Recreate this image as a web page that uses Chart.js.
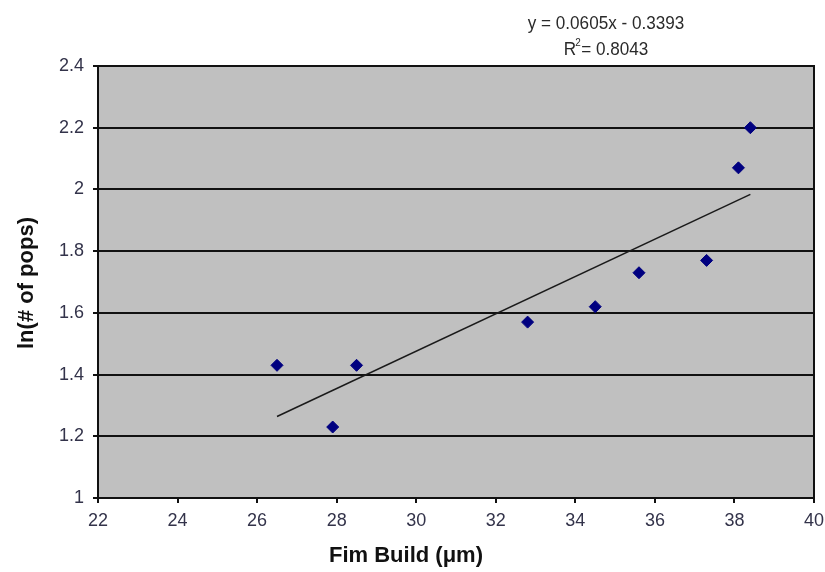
<!DOCTYPE html>
<html>
<head>
<meta charset="utf-8">
<title>Film Build vs pops</title>
<script src="https://cdn.jsdelivr.net/npm/chart.js@4.4.1/dist/chart.umd.min.js"></script>
<style>
  html, body { margin: 0; padding: 0; background: #fff; }
  #wrap { width: 825px; height: 572px; position: relative; }
</style>
</head>
<body>
<div id="wrap"><canvas id="popsChart"></canvas></div>
<script>
// Measured points
const filmBuild = [26.5, 27.9, 28.5, 32.8, 34.5, 35.6, 37.3, 38.1, 38.4];
const lnPops = [1.43, 1.23, 1.43, 1.57, 1.62, 1.73, 1.77, 2.07, 2.20];

// Linear fit as reported
const slope = 0.0605;
const intercept = -0.3393;
const rSquared = 0.8043;

const xTicks = [22, 24, 26, 28, 30, 32, 34, 36, 38, 40];
const yTicks = [1, 1.2, 1.4, 1.6, 1.8, 2, 2.2, 2.4];

const xTitle = 'Fim Build (\u03bcm)';
const yTitle = 'ln(# of pops)';

const FONT = '"Liberation Sans", Arial, Helvetica, sans-serif';

// Fit line spans the data range
const xMin = Math.min(...filmBuild);
const xMax = Math.max(...filmBuild);
const fitLine = [xMin, xMax].map(x => ({ x: x, y: slope * x + intercept }));

// Narrow-looking text: squeeze horizontally
function squeezedText(ctx, text, x, y, sx) {
    ctx.save();
    ctx.translate(x, y);
    ctx.scale(sx, 1);
    ctx.fillText(text, 0, 0);
    ctx.restore();
}

// Grey plot area, frame, equation and axis titles
const plotFrame = {
    id: 'plotFrame',
    beforeDraw(chart) {
        const { ctx, chartArea: a } = chart;
        ctx.save();
        ctx.fillStyle = '#c0c0c0';
        ctx.fillRect(a.left, a.top, a.right - a.left, a.bottom - a.top);
        ctx.restore();
    },
    afterDraw(chart) {
        const { ctx, chartArea: a } = chart;
        ctx.save();
        ctx.strokeStyle = '#111';
        ctx.lineWidth = 2;
        ctx.strokeRect(a.left, a.top, a.right - a.left, a.bottom - a.top);

        // Equation label
        ctx.fillStyle = '#2a2a2a';
        ctx.textBaseline = 'alphabetic';
        ctx.textAlign = 'center';
        ctx.font = '19px ' + FONT;
        const cx = 606;
        const sq = 0.9;
        squeezedText(ctx, 'y = ' + slope + 'x - ' + Math.abs(intercept), cx, 29, sq);

        const r2 = '= ' + rSquared;
        ctx.textAlign = 'left';
        const rW = ctx.measureText('R').width * sq;
        const r2W = ctx.measureText(r2).width * sq;
        const total = rW + 5 + r2W;
        const sx = cx - total / 2;
        squeezedText(ctx, 'R', sx, 55, sq);
        ctx.font = '11px ' + FONT;
        squeezedText(ctx, '2', sx + rW - 1, 46, sq);
        ctx.font = '19px ' + FONT;
        squeezedText(ctx, r2, sx + rW + 5, 55, sq);

        // Axis titles
        ctx.fillStyle = '#111';
        ctx.font = 'bold 22px ' + FONT;
        ctx.textAlign = 'center';
        ctx.textBaseline = 'middle';
        ctx.fillText(xTitle, 406, 556);

        ctx.save();
        ctx.translate(27, 283);
        ctx.rotate(-Math.PI / 2);
        ctx.fillText(yTitle, 0, 0);
        ctx.restore();

        ctx.restore();
    }
};

new Chart(document.getElementById('popsChart'), {
    type: 'scatter',
    data: {
        datasets: [
            {
                label: 'ln(# of pops)',
                data: filmBuild.map((x, i) => ({ x: x, y: lnPops[i] })),
                pointStyle: 'rectRot',
                pointRadius: 6,
                pointHoverRadius: 6,
                backgroundColor: '#000080',
                borderColor: '#000080',
                borderWidth: 1
            },
            {
                label: 'Linear fit',
                data: fitLine,
                showLine: true,
                pointRadius: 0,
                borderColor: '#1a1a1a',
                borderWidth: 1.5
            }
        ]
    },
    options: {
        responsive: true,
        maintainAspectRatio: false,
        animation: false,
        layout: { padding: { left: 0, right: 11, top: 66, bottom: 0 } },
        plugins: {
            legend: { display: false },
            tooltip: { enabled: false }
        },
        scales: {
            x: {
                type: 'linear',
                min: 22,
                max: 40,
                afterBuildTicks: scale => { scale.ticks = xTicks.map(v => ({ value: v })); },
                afterFit: scale => {
                    scale.height = 74;
                    scale.paddingLeft = 0;
                    scale.paddingRight = 0;
                },
                grid: {
                    drawOnChartArea: false,
                    drawTicks: true,
                    tickLength: 5,
                    tickColor: '#111',
                    lineWidth: 2
                },
                border: { color: '#111', width: 2 },
                ticks: {
                    color: '#33334a',
                    font: { family: FONT, size: 18 },
                    padding: 7,
                    maxRotation: 0
                }
            },
            y: {
                type: 'linear',
                min: 1,
                max: 2.4,
                afterBuildTicks: scale => { scale.ticks = yTicks.map(v => ({ value: v })); },
                afterFit: scale => {
                    scale.width = 98;
                    scale.paddingTop = 0;
                    scale.paddingBottom = 0;
                },
                grid: {
                    color: '#111',
                    lineWidth: 2,
                    drawTicks: true,
                    tickLength: 5,
                    tickColor: '#111'
                },
                border: { color: '#111', width: 2 },
                ticks: {
                    color: '#33334a',
                    font: { family: FONT, size: 18 },
                    padding: 9,
                    callback: v => String(Math.round(v * 10) / 10)
                }
            }
        }
    },
    plugins: [plotFrame]
});
</script>
</body>
</html>
